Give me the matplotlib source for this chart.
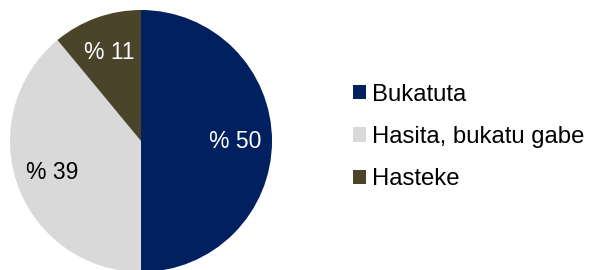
import matplotlib.pyplot as plt
from matplotlib.patches import Patch

plt.rcParams['font.family'] = ['Liberation Sans', 'DejaVu Sans']

labels = ['Bukatuta', 'Hasita, bukatu gabe', 'Hasteke']
values = [50, 39, 11]
colors = ['#002060', '#D9D9D9', '#4A442A']
text_colors = ['white', 'black', 'white']

fig = plt.figure(figsize=(5.89, 2.70), dpi=100)
ax = fig.add_axes([10 / 589, -2 / 270, 262 / 589, 262 / 270])

wedges, texts, autotexts = ax.pie(
    values, colors=colors, startangle=90, counterclock=False,
    autopct=lambda p: '% {:.0f}'.format(p), pctdistance=0.72,
    textprops={'fontsize': 16.5})
for t, c in zip(autotexts, text_colors):
    t.set_color(c)
ax.set_xlim(-1, 1)
ax.set_ylim(-1, 1)
ax.set_aspect('equal')

handles = [Patch(facecolor=c, edgecolor='none') for c in colors]
fig.legend(handles, labels, loc='center left', bbox_to_anchor=(353 / 589, 1 - 137 / 270),
           frameon=False, fontsize=17.2, handlelength=0.55, handleheight=0.55,
           handletextpad=0.25, labelspacing=0.85, borderpad=0, borderaxespad=0)

fig.savefig('out.png', dpi=100)
